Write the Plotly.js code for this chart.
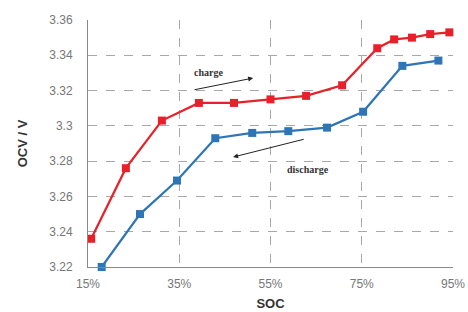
<!DOCTYPE html>
<html><head><meta charset="utf-8">
<script src="https://cdn.plot.ly/plotly-3.0.1.min.js"></script>
<style>html,body{margin:0;padding:0;background:#fff}#c{width:468px;height:312px}</style>
</head><body><div id="c"></div>
<script>
const chargeSOC = [15.7, 23.3, 31.2, 39.3, 47.0, 55.0, 62.8, 70.7, 78.4, 82.1, 86.0, 90.0, 94.2];
const chargeOCV = [3.236, 3.276, 3.303, 3.313, 3.313, 3.315, 3.317, 3.323, 3.344, 3.349, 3.350, 3.352, 3.353];
const dischargeSOC = [18.0, 26.4, 34.5, 42.9, 51.0, 58.9, 67.4, 75.3, 83.9, 91.8];
const dischargeOCV = [3.220, 3.250, 3.269, 3.293, 3.296, 3.297, 3.299, 3.308, 3.334, 3.337];
const xTicks = [15, 35, 55, 75, 95];
const xTickText = ['15%', '35%', '55%', '75%', '95%'];
const yTicks = [3.22, 3.24, 3.26, 3.28, 3.3, 3.32, 3.34, 3.36];
const yTickText = ['3.22', '3.24', '3.26', '3.28', '3.3', '3.32', '3.34', '3.36'];

const traces = [
  {x: chargeSOC, y: chargeOCV, mode: 'lines+markers', line: {color: '#e8202a', width: 2.2},
   marker: {symbol: 'square', size: 8, color: '#e8202a'}, cliponaxis: false, name: 'charge'},
  {x: dischargeSOC, y: dischargeOCV, mode: 'lines+markers', line: {color: '#2e75b6', width: 2.2},
   marker: {symbol: 'square', size: 8, color: '#2e75b6'}, cliponaxis: false, name: 'discharge'}
];
const grid = {showgrid: true, gridcolor: '#a8a8a8', griddash: 'dash', gridwidth: 1};
const layout = {
  width: 468, height: 312,
  margin: {l: 88, r: 15, t: 20, b: 45},
  showlegend: false,
  paper_bgcolor: '#fff', plot_bgcolor: '#fff',
  xaxis: Object.assign({range: [15, 95], tickvals: xTicks, ticktext: xTickText,
    tickfont: {family: 'Liberation Sans, Arial', size: 12, color: '#777'},
    ticklabelstandoff: 6,
    showline: true, linecolor: '#888', linewidth: 1, zeroline: false, ticks: '',
    title: {text: '<b>SOC</b>', font: {family: 'Liberation Sans, Arial', size: 13, color: '#333'}, standoff: 8}}, grid),
  yaxis: Object.assign({range: [3.22, 3.36], tickvals: yTicks, ticktext: yTickText,
    tickfont: {family: 'Liberation Sans, Arial', size: 12, color: '#777'},
    ticklabelstandoff: 12,
    showline: true, linecolor: '#888', linewidth: 1, zeroline: false, ticks: '',
    title: {text: '<b>OCV / V</b>', font: {family: 'Liberation Sans, Arial', size: 13, color: '#333'}, standoff: 18}}, grid),
  annotations: [
    {x: 51.2, y: 3.3271, ax: 38.0, ay: 3.3203, axref: 'x', ayref: 'y', xref: 'x', yref: 'y',
     showarrow: true, arrowhead: 2, arrowsize: 1, arrowwidth: 1, arrowcolor: '#222', text: ''},
    {x: 46.8, y: 3.2823, ax: 62.6, ay: 3.2926, axref: 'x', ayref: 'y', xref: 'x', yref: 'y',
     showarrow: true, arrowhead: 2, arrowsize: 1, arrowwidth: 1, arrowcolor: '#222', text: ''},
    {x: 41.5, y: 3.3305, xref: 'x', yref: 'y', showarrow: false, text: '<b>charge</b>',
     font: {family: 'Liberation Serif, Times New Roman', size: 10, color: '#333'}},
    {x: 63.2, y: 3.275, xref: 'x', yref: 'y', showarrow: false, text: '<b>discharge</b>',
     font: {family: 'Liberation Serif, Times New Roman', size: 10, color: '#333'}}
  ]
};
Plotly.newPlot('c', traces, layout, {staticPlot: true, displayModeBar: false});
</script></body></html>
